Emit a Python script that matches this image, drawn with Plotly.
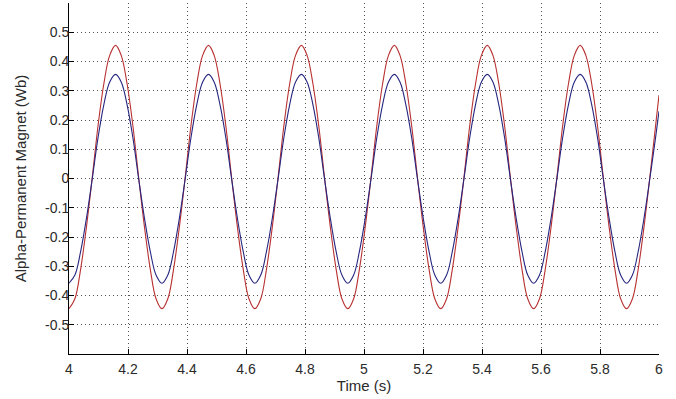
import plotly.graph_objects as go

# Time samples (s) at ~1/16 period spacing
time_s = [4.000, 4.020, 4.039, 4.059, 4.079, 4.098, 4.118, 4.138, 4.158, 4.177, 4.197, 4.217, 4.236, 4.256, 4.276, 4.295,
          4.315, 4.335, 4.354, 4.374, 4.394, 4.413, 4.433, 4.453, 4.473, 4.492, 4.512, 4.532, 4.551, 4.571, 4.591, 4.610,
          4.630, 4.650, 4.669, 4.689, 4.709, 4.728, 4.748, 4.768, 4.788, 4.807, 4.827, 4.847, 4.866, 4.886, 4.906, 4.925,
          4.945, 4.965, 4.984, 5.004, 5.024, 5.043, 5.063, 5.083, 5.103, 5.122, 5.142, 5.162, 5.181, 5.201, 5.221, 5.240,
          5.260, 5.280, 5.299, 5.319, 5.339, 5.358, 5.378, 5.398, 5.418, 5.437, 5.457, 5.477, 5.496, 5.516, 5.536, 5.555,
          5.575, 5.595, 5.614, 5.634, 5.654, 5.673, 5.693, 5.713, 5.733, 5.752, 5.772, 5.792, 5.811, 5.831, 5.851, 5.870,
          5.890, 5.910, 5.929, 5.949, 5.969, 5.988, 6.000]

# Red curve (larger amplitude)
red_vals = [-0.445, -0.411, -0.313, -0.167, 0.005, 0.177, 0.323, 0.421, 0.455, 0.421, 0.323, 0.177, 0.005, -0.167, -0.313, -0.411,
            -0.445, -0.411, -0.313, -0.167, 0.005, 0.177, 0.323, 0.421, 0.455, 0.421, 0.323, 0.177, 0.005, -0.167, -0.313, -0.411,
            -0.445, -0.411, -0.313, -0.167, 0.005, 0.177, 0.323, 0.421, 0.455, 0.421, 0.323, 0.177, 0.005, -0.167, -0.313, -0.411,
            -0.445, -0.411, -0.313, -0.167, 0.005, 0.177, 0.323, 0.421, 0.455, 0.421, 0.323, 0.177, 0.005, -0.167, -0.313, -0.411,
            -0.445, -0.411, -0.313, -0.167, 0.005, 0.177, 0.323, 0.421, 0.455, 0.421, 0.323, 0.177, 0.005, -0.167, -0.313, -0.411,
            -0.445, -0.411, -0.313, -0.167, 0.005, 0.177, 0.323, 0.421, 0.455, 0.421, 0.323, 0.177, 0.005, -0.167, -0.313, -0.411,
            -0.445, -0.411, -0.313, -0.167, 0.005, 0.177, 0.285]

# Blue curve (smaller amplitude)
blue_vals = [-0.358, -0.330, -0.252, -0.137, 0.000, 0.137, 0.252, 0.330, 0.356, 0.330, 0.252, 0.137, 0.000, -0.137, -0.252, -0.330,
             -0.358, -0.330, -0.252, -0.137, 0.000, 0.137, 0.252, 0.330, 0.356, 0.330, 0.252, 0.137, 0.000, -0.137, -0.252, -0.330,
             -0.358, -0.330, -0.252, -0.137, 0.000, 0.137, 0.252, 0.330, 0.356, 0.330, 0.252, 0.137, 0.000, -0.137, -0.252, -0.330,
             -0.358, -0.330, -0.252, -0.137, 0.000, 0.137, 0.252, 0.330, 0.356, 0.330, 0.252, 0.137, 0.000, -0.137, -0.252, -0.330,
             -0.358, -0.330, -0.252, -0.137, 0.000, 0.137, 0.252, 0.330, 0.356, 0.330, 0.252, 0.137, 0.000, -0.137, -0.252, -0.330,
             -0.358, -0.330, -0.252, -0.137, 0.000, 0.137, 0.252, 0.330, 0.356, 0.330, 0.252, 0.137, 0.000, -0.137, -0.252, -0.330,
             -0.358, -0.330, -0.252, -0.137, 0.000, 0.137, 0.230]

x_ticks = [4, 4.2, 4.4, 4.6, 4.8, 5, 5.2, 5.4, 5.6, 5.8, 6]
x_tick_text = ["4", "4.2", "4.4", "4.6", "4.8", "5", "5.2", "5.4", "5.6", "5.8", "6"]
y_ticks = [0.5, 0.4, 0.3, 0.2, 0.1, 0, -0.1, -0.2, -0.3, -0.4, -0.5]
y_tick_text = ["0.5", "0.4", "0.3", "0.2", "0.1", "0", "-0.1", "-0.2", "-0.3", "-0.4", "-0.5"]

fig = go.Figure()
fig.add_trace(go.Scatter(x=time_s, y=red_vals, mode="lines",
                         line=dict(color="#b83030", width=1.1, shape="spline", smoothing=1.0),
                         showlegend=False))
fig.add_trace(go.Scatter(x=time_s, y=blue_vals, mode="lines",
                         line=dict(color="#262680", width=1.1, shape="spline", smoothing=1.0),
                         showlegend=False))

font = dict(family="Liberation Sans, Arial, sans-serif", size=14, color="#2a2a2a")

fig.update_layout(
    width=676, height=399,
    margin=dict(l=69, r=17, t=3, b=45),
    paper_bgcolor="white", plot_bgcolor="white",
    font=font,
    xaxis=dict(range=[4, 6], tickvals=x_ticks, ticktext=x_tick_text,
               showgrid=True, gridcolor="#555", griddash="1px,3px", gridwidth=1,
               showline=True, linecolor="black", linewidth=1,
               ticks="inside", ticklen=5, tickcolor="black",
               ticklabelstandoff=2,
               zeroline=False, title=dict(text="Time (s)", standoff=4, font=dict(size=15))),
    yaxis=dict(range=[-0.6, 0.6], tickvals=y_ticks, ticktext=y_tick_text,
               showgrid=True, gridcolor="#555", griddash="1px,3px", gridwidth=1,
               showline=True, linecolor="black", linewidth=1,
               ticks="inside", ticklen=5, tickcolor="black",
               ticklabelstandoff=-4,
               zeroline=False, title=dict(text="Alpha-Permanent Magnet (Wb)", standoff=14, font=dict(size=15))),
)

fig.write_html("out.html", config={"displayModeBar": False},
               post_script="document.body.style.margin='0';document.body.style.overflow='hidden';")
